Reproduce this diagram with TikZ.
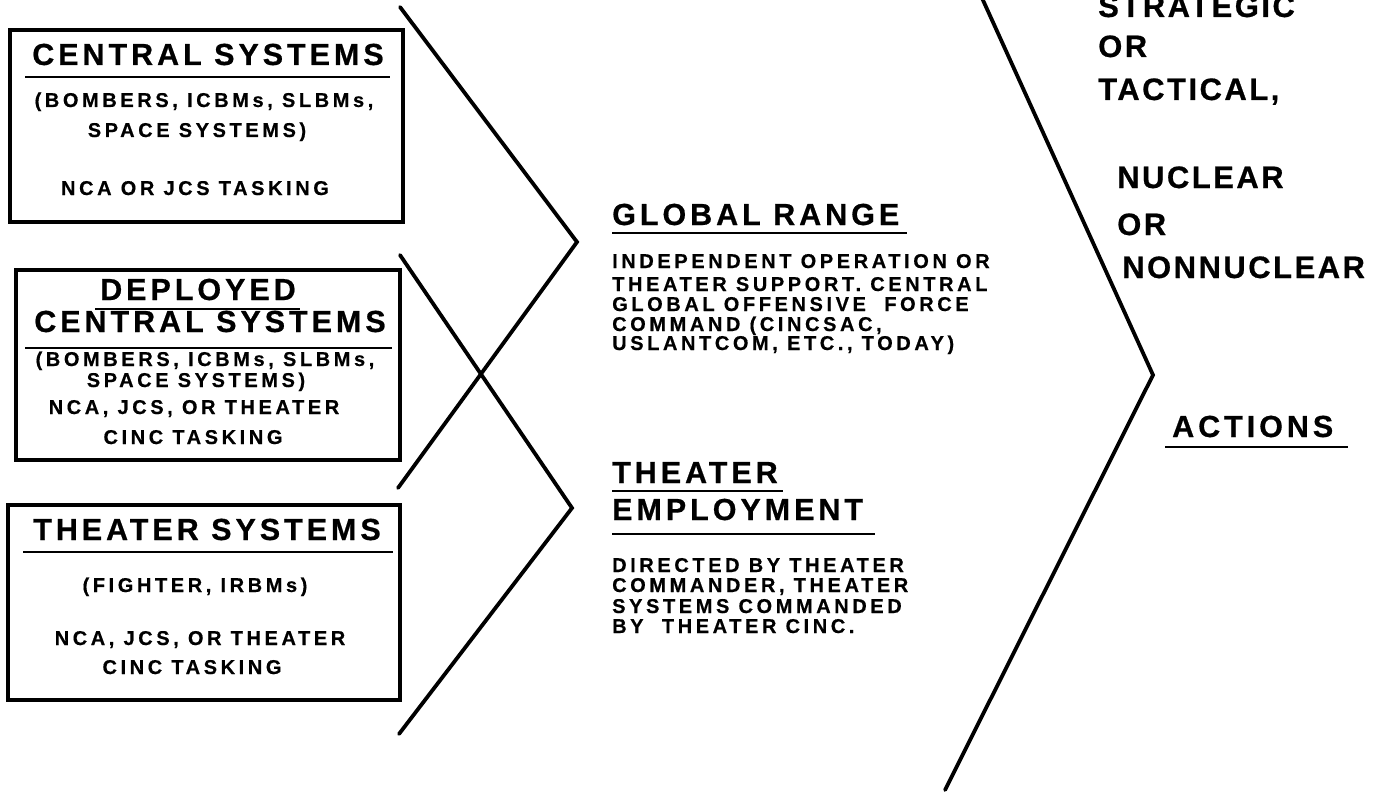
\documentclass[tikz,border=0pt]{standalone}
\usepackage{fontspec}
\setmainfont{Liberation Sans}
\newfontfamily\hdfont[LetterSpace=13,FakeBold=0.6]{Liberation Sans Bold}
\newfontfamily\bdfont[LetterSpace=18,FakeBold=0.5]{Liberation Sans Bold}
\newfontfamily\rtfont[LetterSpace=8,FakeBold=0.6]{Liberation Sans Bold}
\begin{document}
\begin{tikzpicture}[x=1pt,y=-1pt,
  hd/.style={font=\hdfont\fontsize{30.5}{31}\selectfont, inner sep=0pt, anchor=base},
  hdl/.style={hd, anchor=base west},
  bd/.style={font=\bdfont\fontsize{20}{21}\selectfont, inner sep=0pt, anchor=base},
  bdl/.style={bd, anchor=base west},
  rt/.style={font=\rtfont\fontsize{31}{32}\selectfont, inner sep=0pt, anchor=base west},
  boxline/.style={line width=4pt},
  uline/.style={line width=2.2pt},
  chev/.style={line width=3.8pt, line cap=round, line join=miter}]
\useasboundingbox (0,0) rectangle (1376,797);

% ---------- box 1 ----------
\draw[boxline] (10,30) rectangle (403,222);
\node[hd] (t1) at (208,65) {CENTRAL SYSTEMS};
\coordinate (u1a) at (25,77); \coordinate (u1b) at (390,77);
\draw[uline] (u1a) -- (u1b);
\node[bd] (b1a) at (204,107) {(BOMBERS, ICBMs, SLBMs,};
\node[bd] (b1b) at (197,137) {SPACE SYSTEMS)};
\node[bd] (b1c) at (195,195) {NCA OR JCS TASKING};

% ---------- box 2 ----------
\draw[boxline] (16,270) rectangle (400,460);
\node[hd] (t2a) at (198,300) {DEPLOYED};
\coordinate (u2a) at (95,309); \coordinate (u2b) at (300,309);
\draw[uline] (u2a) -- (u2b);
\node[hd] (t2b) at (210,332) {CENTRAL SYSTEMS};
\coordinate (u2c) at (25,348); \coordinate (u2d) at (392,348);
\draw[uline] (u2c) -- (u2d);
\node[bd] (b2a) at (205,366) {(BOMBERS, ICBMs, SLBMs,};
\node[bd] (b2b) at (196,387) {SPACE SYSTEMS)};
\node[bd] (b2c) at (194,414) {NCA, JCS, OR THEATER};
\node[bd] (b2d) at (193,444) {CINC TASKING};

% ---------- box 3 ----------
\draw[boxline] (8,505) rectangle (400,700);
\node[hd] (t3) at (207,540) {THEATER SYSTEMS};
\coordinate (u3a) at (23,552); \coordinate (u3b) at (393,552);
\draw[uline] (u3a) -- (u3b);
\node[bd] (b3a) at (195,592) {(FIGHTER, IRBMs)};
\node[bd] (b3b) at (200,645) {NCA, JCS, OR THEATER};
\node[bd] (b3c) at (192,674) {CINC TASKING};

% ---------- chevrons ----------
\coordinate (a1) at (400,7);   \coordinate (a2) at (577,242); \coordinate (a3) at (398,488);
\coordinate (c1) at (400,255); \coordinate (c2) at (572,508); \coordinate (c3) at (399,734);
\coordinate (r1) at (982,-2);  \coordinate (r2) at (1153,375); \coordinate (r3) at (945,790);
\draw[chev] (a1) -- (a2) -- (a3);
\draw[chev] (c1) -- (c2) -- (c3);
\draw[chev] (r1) -- (r2) -- (r3);

% ---------- middle ----------
\node[hdl] (g1) at (612,225) {GLOBAL RANGE};
\coordinate (ug1) at (612,233); \coordinate (ug2) at (907,233);
\draw[uline] (ug1) -- (ug2);
\node[bdl] (g2) at (612,268) {INDEPENDENT OPERATION OR};
\node[bdl] (g3) at (612,291) {THEATER SUPPORT. CENTRAL};
\node[bdl] (g4) at (612,311) {GLOBAL OFFENSIVE\ \ FORCE};
\node[bdl] (g5) at (612,331) {COMMAND (CINCSAC,};
\node[bdl] (g6) at (612,350) {USLANTCOM, ETC., TODAY)};

\node[hdl] (e1) at (612,483) {THEATER};
\coordinate (ue1) at (612,491); \coordinate (ue2) at (783,491);
\draw[uline] (ue1) -- (ue2);
\node[hdl] (e2) at (612,520) {EMPLOYMENT};
\coordinate (ue3) at (612,534); \coordinate (ue4) at (875,534);
\draw[uline] (ue3) -- (ue4);
\node[bdl] (e3) at (612,572) {DIRECTED BY THEATER};
\node[bdl] (e4) at (612,592) {COMMANDER, THEATER};
\node[bdl] (e5) at (612,613) {SYSTEMS COMMANDED};
\node[bdl] (e6) at (612,633) {BY\ \ THEATER CINC.};

% ---------- right ----------
\node[rt] (s1) at (1098,17) {STRATEGIC};
\node[rt] (s2) at (1098,57) {OR};
\node[rt] (s3) at (1098,100) {TACTICAL,};
\node[rt] (s4) at (1117,188) {NUCLEAR};
\node[rt] (s5) at (1117,235) {OR};
\node[rt] (s6) at (1122,278) {NONNUCLEAR};
\node[hdl] (ac) at (1172,437) {ACTIONS};
\coordinate (ua1) at (1165,447); \coordinate (ua2) at (1348,447);
\draw[uline] (ua1) -- (ua2);
\end{tikzpicture}
\end{document}
